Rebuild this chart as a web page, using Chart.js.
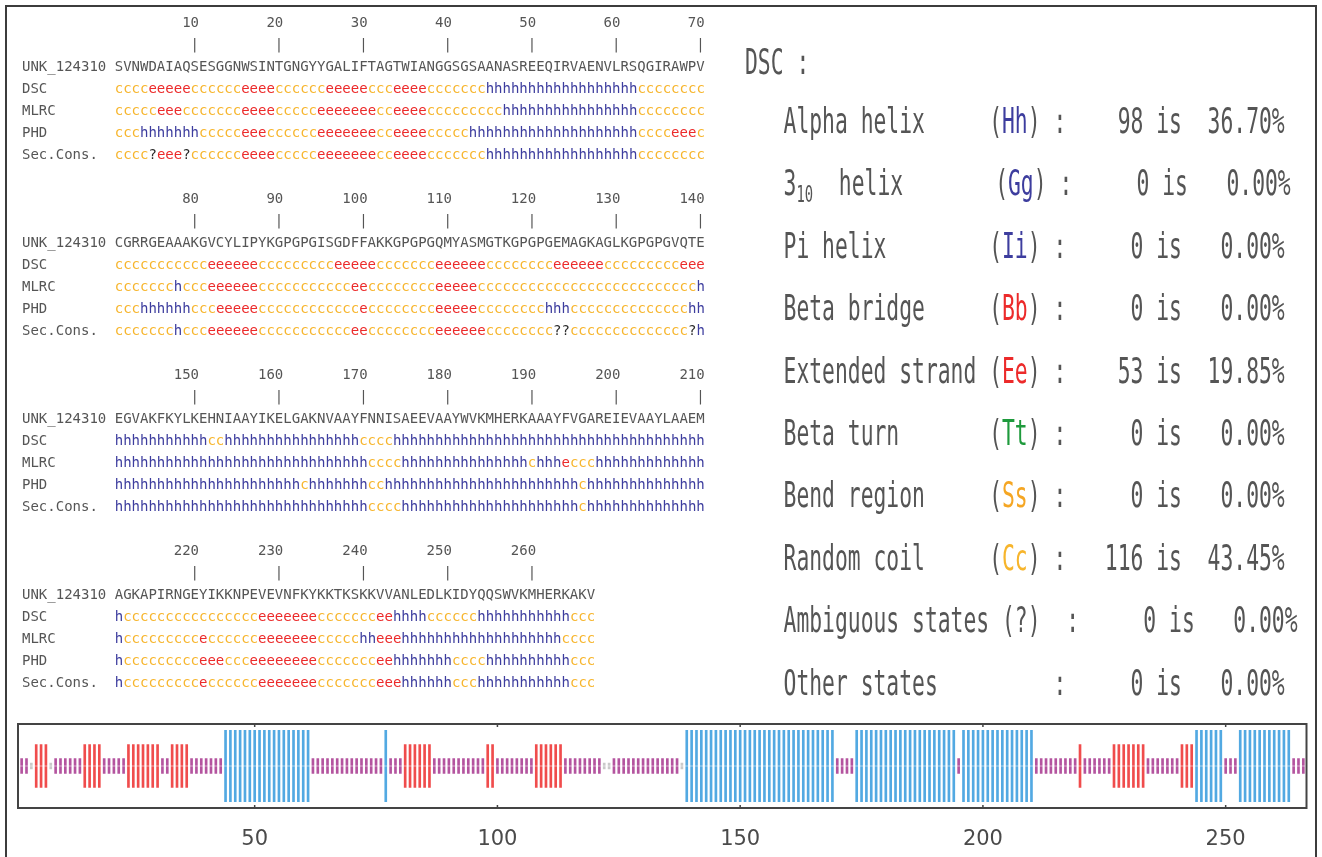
<!DOCTYPE html>
<html>
<head>
<meta charset="utf-8">
<script src="https://cdn.jsdelivr.net/npm/chart.js@4.4.1/dist/chart.umd.min.js"></script>
<style>
  html, body { margin: 0; padding: 0; background: #fff; }
  body { width: 1322px; height: 857px; position: relative; overflow: hidden; }
  #frame { position: absolute; left: 5px; top: 5px; width: 1312px; height: 900px; border: 2px solid #3c3c3c; box-sizing: border-box; }
  #align { position: absolute; left: 22px; top: 11px; margin: 0; font: 14px/22px 'DejaVu Sans Mono', monospace; color: #555; white-space: pre; will-change: transform; }
  .s-c { color: #f7b52c; } .s-e { color: #ec2a2a; } .s-h { color: #3d3d9e; } .s-q { color: #2a2a2a; }
  #stats { position: absolute; left: 745px; top: 0; width: 570px; height: 710px; font-family: 'DejaVu Sans Mono', monospace; font-size: 21.35px; color: #555; will-change: transform; }
  .row { position: absolute; left: 0; height: 26px; line-height: 26px; white-space: pre; transform: scaleY(1.7); transform-origin: 0 50%; }
  .row .lbl { display: inline-block; width: 211.6px; }
  .row sub { font-size: 0.65em; vertical-align: -0.3em; line-height: 0; }
  #plot { position: absolute; left: 0; top: 700px; width: 1322px; height: 157px; }
</style>
</head>
<body>
<div id="frame"></div>
<pre id="align"></pre>
<div id="stats"></div>
<div id="plot"><canvas id="chart"></canvas></div>
<script>
// Query sequence and per-method secondary structure predictions, 70 residues per block
const seqName = 'UNK_124310';
const blockSize = 70;

const sequenceBlocks = [
  'SVNWDAIAQS' + 'ESGGNWSINT' + 'GNGYYGALIF' + 'TAGTWIANGG' + 'SGSAANASRE' + 'EQIRVAENVL' + 'RSQGIRAWPV',
  'CGRRGEAAAK' + 'GVCYLIPYKG' + 'PGPGISGDFF' + 'AKKGPGPGQM' + 'YASMGTKGPG' + 'PGEMAGKAGL' + 'KGPGPGVQTE',
  'EGVAKFKYLK' + 'EHNIAAYIKE' + 'LGAKNVAAYF' + 'NNISAEEVAA' + 'YWVKMHERKA' + 'AAYFVGAREI' + 'EVAAYLAAEM',
  'AGKAPIRNGE' + 'YIKKNPEVEV' + 'NFKYKKTKSK' + 'KVVANLEDLK' + 'IDYQQSWVKM' + 'HERKAKV'
];

const dscBlocks = [
  'cccceeeeec' + 'ccccceeeec' + 'ccccceeeee' + 'ccceeeeccc' + 'cccchhhhhh' + 'hhhhhhhhhh' + 'hhcccccccc',
  'cccccccccc' + 'ceeeeeeccc' + 'cccccceeee' + 'ecccccccee' + 'eeeecccccc' + 'cceeeeeecc' + 'ccccccceee',
  'hhhhhhhhhh' + 'hcchhhhhhh' + 'hhhhhhhhhc' + 'ccchhhhhhh' + 'hhhhhhhhhh' + 'hhhhhhhhhh' + 'hhhhhhhhhh',
  'hccccccccc' + 'ccccccceee' + 'eeeecccccc' + 'ceehhhhccc' + 'ccchhhhhhh' + 'hhhhccc'
];

const mlrcBlocks = [
  'ccccceeecc' + 'ccccceeeec' + 'cccceeeeee' + 'ecceeeeccc' + 'cccccchhhh' + 'hhhhhhhhhh' + 'hhcccccccc',
  'ccccccchcc' + 'ceeeeeeccc' + 'ccccccccee' + 'ccccccccee' + 'eeeccccccc' + 'cccccccccc' + 'ccccccccch',
  'hhhhhhhhhh' + 'hhhhhhhhhh' + 'hhhhhhhhhh' + 'cccchhhhhh' + 'hhhhhhhhhc' + 'hhheccchhh' + 'hhhhhhhhhh',
  'hccccccccc' + 'ecccccceee' + 'eeeeccccch' + 'heeehhhhhh' + 'hhhhhhhhhh' + 'hhhcccc'
];

const phdBlocks = [
  'ccchhhhhhh' + 'ccccceeecc' + 'cccceeeeee' + 'ecceeeeccc' + 'cchhhhhhhh' + 'hhhhhhhhhh' + 'hhcccceeec',
  'ccchhhhhhc' + 'cceeeeeccc' + 'ccccccccce' + 'ccccccccee' + 'eeeccccccc' + 'chhhcccccc' + 'cccccccchh',
  'hhhhhhhhhh' + 'hhhhhhhhhh' + 'hhchhhhhhh' + 'cchhhhhhhh' + 'hhhhhhhhhh' + 'hhhhhchhhh' + 'hhhhhhhhhh',
  'hccccccccc' + 'eeeccceeee' + 'eeeecccccc' + 'ceehhhhhhh' + 'cccchhhhhh' + 'hhhhccc'
];

const consensusBlocks = [
  'cccc?eee?c' + 'ccccceeeec' + 'cccceeeeee' + 'ecceeeeccc' + 'cccchhhhhh' + 'hhhhhhhhhh' + 'hhcccccccc',
  'ccccccchcc' + 'ceeeeeeccc' + 'ccccccccee' + 'ccccccccee' + 'eeeecccccc' + 'cc??cccccc' + 'cccccccc?h',
  'hhhhhhhhhh' + 'hhhhhhhhhh' + 'hhhhhhhhhh' + 'cccchhhhhh' + 'hhhhhhhhhh' + 'hhhhhchhhh' + 'hhhhhhhhhh',
  'hccccccccc' + 'ecccccceee' + 'eeeecccccc' + 'ceeehhhhhh' + 'ccchhhhhhh' + 'hhhhccc'
];

// DSC composition summary
const statNames    = ['Alpha helix', '3_10  helix', 'Pi helix', 'Beta bridge', 'Extended strand', 'Beta turn', 'Bend region', 'Random coil', 'Ambiguous states', 'Other states'];
const statCodes    = ['Hh', 'Gg', 'Ii', 'Bb', 'Ee', 'Tt', 'Ss', 'Cc', '?', ''];
const statCounts   = [98, 0, 0, 0, 53, 0, 0, 116, 0, 0];
const statPercents = [36.70, 0, 0, 0, 19.85, 0, 0, 43.45, 0, 0];

// Axis labels of the consensus strip
const axisTicks = [50, 100, 150, 200, 250];

// ---------- alignment text ----------
const codeClass = { c: 's-c', e: 's-e', h: 's-h', '?': 's-q' };
const pad = (s, n) => s + ' '.repeat(Math.max(0, n - s.length));
const lpad = (s, n) => ' '.repeat(Math.max(0, n - s.length)) + s;

function colourRuns(str) {
  let out = '', i = 0;
  while (i < str.length) {
    let j = i;
    while (j < str.length && str[j] === str[i]) j++;
    out += '<span class="' + codeClass[str[i]] + '">' + str.slice(i, j) + '</span>';
    i = j;
  }
  return out;
}

const lines = [];
sequenceBlocks.forEach((seq, b) => {
  const start = b * blockSize + 1;
  const nums = new Array(seq.length).fill(' ');
  const bars = new Array(seq.length).fill(' ');
  for (let r = start; r < start + seq.length; r++) {
    if (r % 10 === 0) {
      const col = r - start, s = String(r);
      for (let k = 0; k < s.length; k++) nums[col - s.length + 1 + k] = s[k];
      bars[col] = '|';
    }
  }
  lines.push(' '.repeat(11) + nums.join('').replace(/\s+$/, ''));
  lines.push(' '.repeat(11) + bars.join('').replace(/\s+$/, ''));
  lines.push(pad(seqName, 11) + seq);
  lines.push(pad('DSC', 11) + colourRuns(dscBlocks[b]));
  lines.push(pad('MLRC', 11) + colourRuns(mlrcBlocks[b]));
  lines.push(pad('PHD', 11) + colourRuns(phdBlocks[b]));
  lines.push(pad('Sec.Cons.', 11) + colourRuns(consensusBlocks[b]));
  lines.push('');
});
document.getElementById('align').innerHTML = lines.join('\n');

// ---------- DSC summary ----------
const codeColours = { Hh: '#3d3d9e', Gg: '#3d3d9e', Ii: '#3d3d9e', Bb: '#ec2a2a', Ee: '#ec2a2a', Tt: '#1e9a3c', Ss: '#f5a623', Cc: '#f7b52c', '?': '#555' };
const stats = document.getElementById('stats');
function addRow(html, centerY) {
  const d = document.createElement('div');
  d.className = 'row';
  d.style.top = (centerY - 13) + 'px';
  d.innerHTML = html;
  stats.appendChild(d);
}
addRow('DSC :', 62);
statNames.forEach((name, i) => {
  const shown = name.replace('_', '');
  const tail = lpad(String(statCounts[i]), 5) + ' is ' + lpad(statPercents[i].toFixed(2), 6) + '%';
  const code = statCodes[i];
  let html;
  if (code === '') {
    html = name + ' '.repeat(21 - shown.length) + ': ' + tail;
  } else if (code === '?') {
    html = name + ' (?)  : ' + tail;
  } else if (name.startsWith('3_10')) {
    // subscripted label kept in its own fixed-width cell
    html = '<span class="lbl">3<sub>10</sub>' + name.slice(4) + '</span>(<span style="color:' + codeColours[code] + '">' + code + '</span>) : ' + tail;
  } else {
    html = name + ' '.repeat(16 - shown.length) + '(<span style="color:' + codeColours[code] + '">' + code + '</span>) : ' + tail;
  }
  addRow('   ' + html, 121 + 62.4 * i);
});

// ---------- consensus strip ----------
const secCons = consensusBlocks.join('');
const stateColour = { h: '#52a9e2', e: '#f04c4c', c: '#b4549f', '?': '#c9c9c9' };
const stateHalf = { h: 0.85, e: 0.51, c: 0.175, '?': 0.07 };
const centreGap = 0.012;

const states = secCons.split('');
const upper = states.map((s, i) => ({ x: i, y: [centreGap, stateHalf[s]] }));
const lower = states.map((s, i) => ({ x: i, y: [-stateHalf[s], -centreGap] }));
const colours = states.map(s => stateColour[s]);

const boxPlugin = {
  id: 'boxPlugin',
  afterDatasetsDraw(chart) {
    const { ctx, chartArea: a, scales: { x } } = chart;
    ctx.save();
    ctx.strokeStyle = '#444';
    ctx.lineWidth = 2;
    ctx.strokeRect(a.left, a.top, a.right - a.left, a.bottom - a.top);
    ctx.lineWidth = 1.5;
    axisTicks.forEach(v => {
      const px = x.getPixelForValue(v);
      ctx.beginPath();
      ctx.moveTo(px, a.top); ctx.lineTo(px, a.top + 3);
      ctx.moveTo(px, a.bottom); ctx.lineTo(px, a.bottom - 3);
      ctx.stroke();
    });
    ctx.restore();
  }
};

new Chart(document.getElementById('chart'), {
  type: 'bar',
  data: {
    datasets: [
      { data: upper, backgroundColor: colours, barThickness: 2, grouped: false, borderWidth: 0 },
      { data: lower, backgroundColor: colours, barThickness: 2, grouped: false, borderWidth: 0 }
    ]
  },
  options: {
    responsive: true,
    maintainAspectRatio: false,
    animation: false,
    events: [],
    layout: { padding: { left: 18, right: 15.5, top: 24, bottom: 0 } },
    plugins: { legend: { display: false }, tooltip: { enabled: false } },
    scales: {
      x: {
        type: 'linear',
        min: 1.25,
        max: 266.65,
        offset: false,
        grid: { display: false, drawTicks: false },
        border: { display: false },
        afterBuildTicks: s => { s.ticks = axisTicks.map(v => ({ value: v })); },
        afterFit: s => { s.height = 49; },
        ticks: { font: { family: 'DejaVu Sans', size: 21 }, color: '#4a4a4a', padding: 19, maxRotation: 0, autoSkip: false }
      },
      y: { display: false, min: -1, max: 1 }
    }
  },
  plugins: [boxPlugin]
});
</script>
</body>
</html>
